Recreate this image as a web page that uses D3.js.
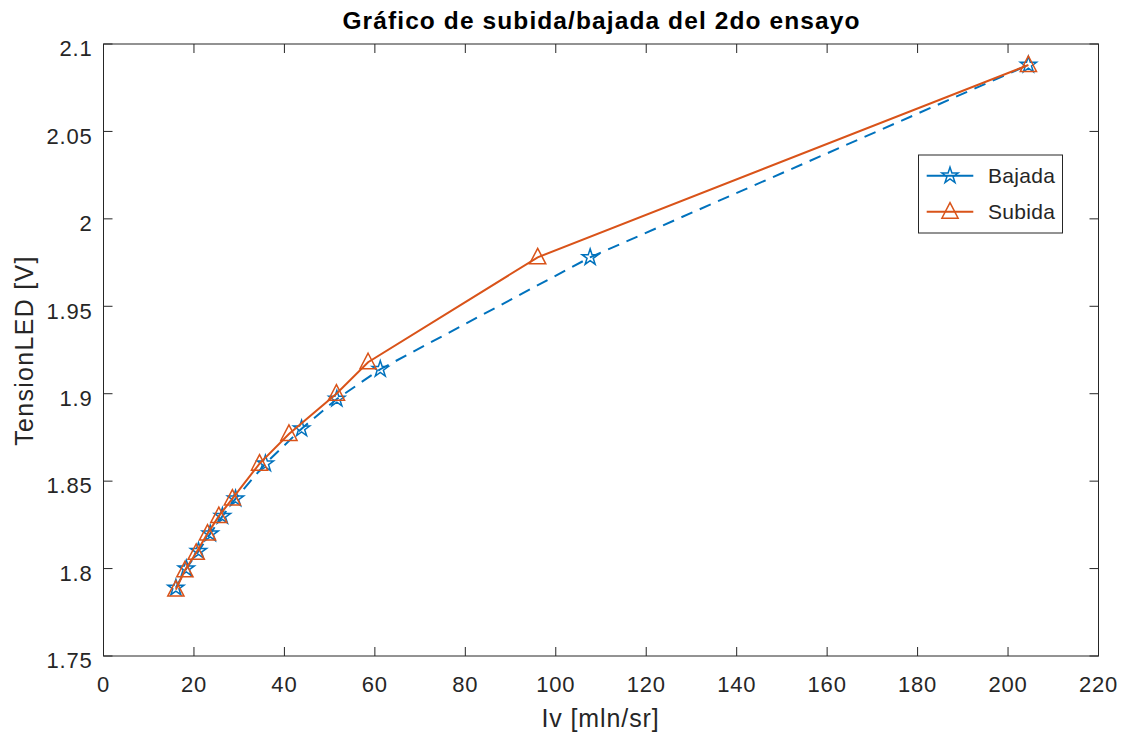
<!DOCTYPE html>
<html>
<head>
<meta charset="utf-8">
<script src="https://cdn.jsdelivr.net/npm/d3@7"></script>
<style>
  body { margin: 0; background: #fff; }
  text { font-family: "Liberation Sans", Arial, sans-serif; fill: #262626; }
</style>
</head>
<body>
<svg id="chart"></svg>
<script>
// data
const bajadaX = [16, 18.3, 21, 23.6, 26.3, 29.2, 35.8, 43.8, 51.6, 61.2, 107.6, 204.5]
const bajadaY = [1.789, 1.80, 1.81, 1.82, 1.83, 1.84, 1.86, 1.88, 1.897, 1.914, 1.978, 2.088]
const subidaX = [16, 18, 20.5, 23, 25.5, 28.5, 34.5, 41, 51.5, 58.5, 96, 204.5]
const subidaY = [1.788, 1.799, 1.809, 1.82, 1.83, 1.84, 1.86, 1.877, 1.90, 1.918, 1.978, 2.088]
const xTicks = [0, 20, 40, 60, 80, 100, 120, 140, 160, 180, 200, 220]
const yTicks = [1.75, 1.8, 1.85, 1.9, 1.95, 2, 2.05, 2.1]
const seriesNames = ['Bajada', 'Subida']

const W = 1124, H = 738
const mLeft = 103.5, mRight = 1098.5, mTop = 44, mBottom = 656
const blue = '#0072BD', orange = '#D95319', axisCol = '#262626'

const svg = d3.select('#chart').attr('width', W).attr('height', H)

const x = d3.scaleLinear().domain([0, 220]).range([mLeft, mRight])
const y = d3.scaleLinear().domain([1.75, 2.1]).range([mBottom, mTop])

// ticks inside the box, on all four sides
const tickLen = 9
const axes = svg.append('g').attr('stroke', axisCol).attr('stroke-width', 1)
xTicks.forEach(t => {
  axes.append('line').attr('x1', x(t)).attr('x2', x(t)).attr('y1', mBottom).attr('y2', mBottom - tickLen)
  axes.append('line').attr('x1', x(t)).attr('x2', x(t)).attr('y1', mTop).attr('y2', mTop + tickLen)
})
yTicks.forEach(t => {
  axes.append('line').attr('x1', mLeft).attr('x2', mLeft + tickLen).attr('y1', y(t)).attr('y2', y(t))
  axes.append('line').attr('x1', mRight).attr('x2', mRight - tickLen).attr('y1', y(t)).attr('y2', y(t))
})
axes.append('rect').attr('x', mLeft).attr('y', mTop)
  .attr('width', mRight - mLeft).attr('height', mBottom - mTop).attr('fill', 'none')

// tick labels
svg.append('g').selectAll('text').data(xTicks).join('text')
  .attr('x', d => x(d)).attr('y', 692)
  .attr('text-anchor', 'middle').style('font-size', '22px').style('letter-spacing', '0.8px')
  .text(d => d)
svg.append('g').selectAll('text').data(yTicks).join('text')
  .attr('x', 92.5).attr('y', d => y(d) + 12.3)
  .attr('text-anchor', 'end').style('font-size', '22px').style('letter-spacing', '0.8px')
  .text(d => d)

// title and axis labels
svg.append('text').attr('x', 601.5).attr('y', 29.3).attr('text-anchor', 'middle')
  .style('font-size', '24.5px').style('font-weight', 'bold').style('letter-spacing', '1.1px')
  .style('fill', '#000')
  .text('Gráfico de subida/bajada del 2do ensayo')
svg.append('text').attr('x', 600.5).attr('y', 727).attr('text-anchor', 'middle')
  .style('font-size', '25px').style('letter-spacing', '0.9px')
  .text('Iv [mln/sr]')
svg.append('text').attr('transform', 'translate(33,350.5) rotate(-90)').attr('text-anchor', 'middle')
  .style('font-size', '25px').style('letter-spacing', '1.3px')
  .text('TensionLED [V]')

// marker shapes
const star = (r) => {
  let p = ''
  for (let i = 0; i < 10; i++) {
    const rr = i % 2 === 0 ? r : r * 0.382
    const a = -Math.PI / 2 + i * Math.PI / 5
    p += (i === 0 ? 'M' : 'L') + (rr * Math.cos(a)).toFixed(2) + ',' + (rr * Math.sin(a)).toFixed(2)
  }
  return p + 'Z'
}
const tri = (r) => `M0,${-r}L${r * 0.9},${r * 0.72}L${-r * 0.9},${r * 0.72}Z`

const bajada = bajadaX.map((d, i) => [d, bajadaY[i]])
const subida = subidaX.map((d, i) => [d, subidaY[i]])
const line = d3.line().x(d => x(d[0])).y(d => y(d[1]))

const plot = svg.append('g')
plot.append('path').datum(bajada).attr('d', line)
  .attr('fill', 'none').attr('stroke', blue).attr('stroke-width', 2).attr('stroke-dasharray', '12,8')
plot.selectAll('.star').data(bajada).join('path').attr('class', 'star')
  .attr('transform', d => `translate(${x(d[0])},${y(d[1])})`)
  .attr('d', star(8.5)).attr('fill', 'none').attr('stroke', blue).attr('stroke-width', 1.5)

plot.append('path').datum(subida).attr('d', line)
  .attr('fill', 'none').attr('stroke', orange).attr('stroke-width', 2)
plot.selectAll('.tri').data(subida).join('path').attr('class', 'tri')
  .attr('transform', d => `translate(${x(d[0])},${y(d[1])})`)
  .attr('d', tri(9)).attr('fill', 'none').attr('stroke', orange).attr('stroke-width', 1.5)

// legend
const lg = svg.append('g')
lg.append('rect').attr('x', 918.5).attr('y', 155).attr('width', 144).attr('height', 78)
  .attr('fill', '#fff').attr('stroke', axisCol).attr('stroke-width', 1)
const legendRows = [
  { name: seriesNames[0], color: blue, shape: star(8.5), y: 175.7 },
  { name: seriesNames[1], color: orange, shape: tri(9), y: 211.7 }
]
legendRows.forEach(r => {
  lg.append('line').attr('x1', 926.7).attr('x2', 973.3).attr('y1', r.y).attr('y2', r.y)
    .attr('stroke', r.color).attr('stroke-width', 2)
  lg.append('path').attr('transform', `translate(950,${r.y})`).attr('d', r.shape)
    .attr('fill', 'none').attr('stroke', r.color).attr('stroke-width', 1.5)
  lg.append('text').attr('x', 988).attr('y', r.y + 7.5)
    .style('font-size', '21px').style('letter-spacing', '0.3px').text(r.name)
})
</script>
</body>
</html>
